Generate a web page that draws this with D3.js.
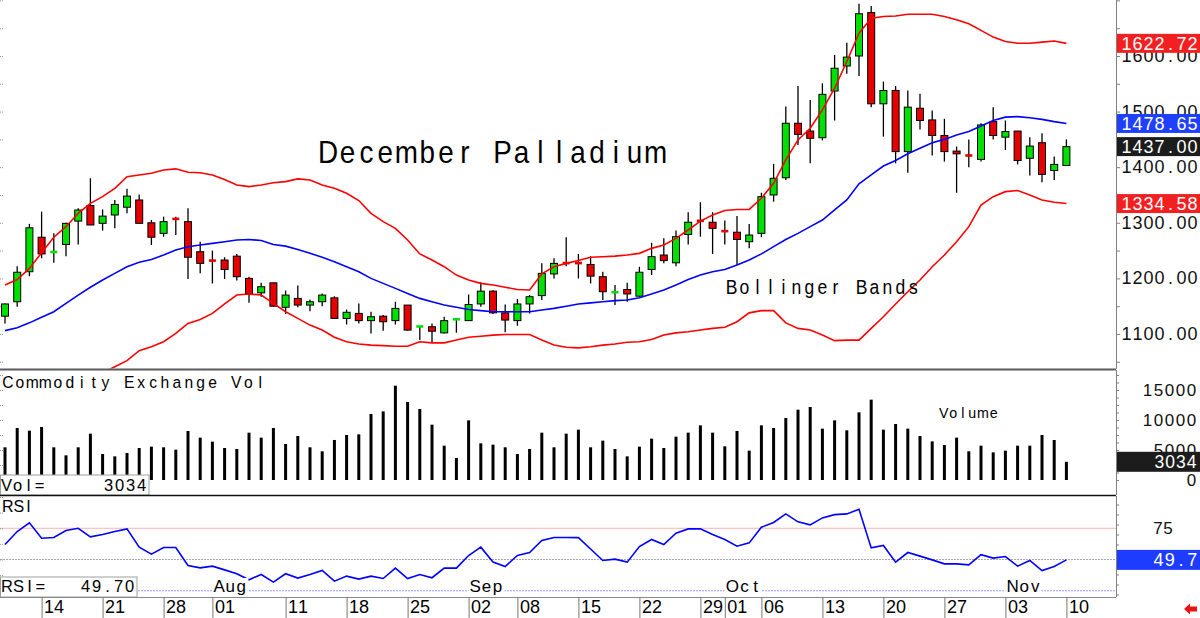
<!DOCTYPE html>
<html><head><meta charset="utf-8">
<script src="https://cdn.jsdelivr.net/npm/d3@7"></script>
<style>html,body{margin:0;padding:0;background:#fff;}svg{display:block;}</style>
</head><body>
<svg id="chart" width="1200" height="618"></svg>
<script>
// ---------------- DATA ----------------
const dates = ["07-09","07-10","07-11","07-14","07-15","07-16","07-17","07-18","07-21","07-22","07-23","07-24","07-25","07-28","07-29","07-30","07-31","08-01","08-04","08-05","08-06","08-07","08-08","08-11","08-12","08-13","08-14","08-15","08-18","08-19","08-20","08-21","08-22","08-25","08-26","08-27","08-28","08-29","09-02","09-03","09-04","09-05","09-08","09-09","09-10","09-11","09-12","09-15","09-16","09-17","09-18","09-19","09-22","09-23","09-24","09-25","09-26","09-29","09-30","10-01","10-02","10-03","10-06","10-07","10-08","10-09","10-10","10-13","10-14","10-15","10-16","10-17","10-20","10-21","10-22","10-23","10-24","10-27","10-28","10-29","10-30","10-31","11-03","11-04","11-05","11-06","11-07","11-10"];
const openP  = [1132,1158,1212,1274,1247,1261,1303,1331,1299,1314,1328,1341,1300,1281,1309,1302,1248,1233,1233,1240,1200,1174,1192,1148,1164,1152,1158,1165,1128,1137,1124,1132,1124,1152,1113,1113,1102,1126,1124,1154,1177,1138,1124,1154,1169,1208,1228,1228,1225,1203,1173,1180,1168,1216,1242,1228,1279,1304,1301,1287,1283,1266,1281,1350,1381,1479,1465,1453,1537,1582,1600,1678,1514,1538,1428,1506,1485,1457,1429,1422,1414,1482,1454,1465,1416,1444,1394,1403];
const highP  = [1155,1222,1298,1320,1281,1300,1326,1380,1324,1341,1361,1351,1305,1311,1311,1326,1266,1250,1238,1244,1203,1192,1192,1178,1187,1162,1173,1168,1144,1155,1140,1134,1158,1152,1114,1119,1131,1127,1171,1193,1179,1153,1163,1170,1227,1236,1274,1244,1240,1212,1188,1192,1221,1264,1272,1286,1319,1337,1319,1304,1312,1298,1354,1406,1509,1546,1521,1551,1602,1624,1694,1690,1554,1546,1538,1532,1502,1487,1437,1450,1479,1508,1484,1465,1454,1461,1419,1450];
const lowP   = [1119,1149,1204,1236,1228,1240,1261,1296,1286,1290,1317,1299,1260,1275,1278,1199,1209,1191,1199,1196,1156,1167,1149,1136,1148,1141,1150,1128,1117,1119,1101,1106,1117,1106,1089,1084,1101,1102,1124,1149,1136,1103,1115,1137,1161,1200,1222,1200,1191,1161,1152,1158,1167,1206,1227,1222,1261,1275,1244,1261,1224,1254,1274,1338,1377,1440,1407,1448,1484,1568,1564,1508,1455,1407,1390,1468,1421,1410,1354,1400,1410,1450,1431,1405,1385,1373,1377,1403];
const closeP = [1154,1211,1291,1244,1248,1299,1323,1296,1312,1333,1348,1299,1274,1302,1305,1238,1227,1231,1216,1203,1172,1185,1150,1170,1152,1158,1170,1128,1139,1124,1131,1122,1146,1107,1114,1105,1124,1127,1153,1177,1138,1125,1154,1167,1209,1227,1227,1227,1204,1176,1177,1172,1211,1239,1232,1275,1301,1303,1290,1283,1270,1278,1347,1380,1479,1459,1452,1531,1578,1598,1676,1514,1538,1428,1508,1484,1457,1428,1424,1420,1476,1457,1464,1412,1438,1387,1405,1437];
const bbUpper  = [1188,1198,1218,1246,1274,1293,1317,1335,1347,1362,1383,1386,1389,1395,1397,1391,1390,1386,1378,1368,1365,1368,1372,1374,1379,1377,1368,1362,1353,1340,1317,1302,1290,1269,1244,1233,1221,1206,1197,1191,1188,1184,1180,1179,1208,1221,1227,1232,1238,1239,1240,1242,1245,1254,1260,1272,1287,1303,1314,1322,1324,1324,1344,1371,1413,1449,1470,1503,1542,1590,1641,1668,1671,1672,1675,1675,1675,1671,1665,1658,1646,1634,1626,1623,1623,1625,1627,1622.72];
const bbMiddle = [1106,1111,1120,1130,1140,1155,1170,1184,1197,1209,1221,1229,1234,1242,1251,1257,1260,1263,1266,1269,1270,1268,1261,1258,1252,1245,1238,1230,1221,1212,1200,1191,1182,1173,1164,1158,1152,1148,1144,1142,1140,1140,1140,1140,1143,1146,1150,1154,1156,1158,1160,1161,1165,1172,1179,1188,1198,1206,1212,1216,1224,1233,1244,1257,1270,1281,1293,1305,1323,1341,1370,1386,1402,1412,1424,1434,1444,1450,1458,1464,1474,1484,1490,1491,1489,1486,1482,1478.65];
const bbLower  = [1005,1005,1004,1002,1000,1004,1012,1022,1030,1041,1052,1070,1077,1086,1101,1119,1126,1137,1154,1170,1172,1170,1155,1140,1128,1116,1107,1094,1086,1082,1080,1079,1078,1078,1086,1084,1084,1089,1094,1096,1098,1099,1099,1099,1089,1080,1076,1075,1077,1080,1082,1085,1086,1090,1098,1102,1104,1107,1110,1112,1122,1138,1142,1142,1120,1110,1107,1098,1088,1089,1089,1110,1131,1154,1176,1197,1221,1242,1266,1293,1332,1347,1356,1358,1350,1341,1337,1334.58];
const volume = [5450,8670,8220,8830,5450,4110,5450,7720,4330,3940,4500,5330,5560,5450,5060,8170,7060,6390,5330,5170,7890,7060,8670,6000,7330,5450,4780,6670,7500,7610,11000,11440,15720,13000,11830,9220,5720,3670,9940,6110,5890,5450,4330,5170,7890,5450,7720,8390,5450,6560,5170,3940,5560,6890,5330,7220,7890,9110,7890,5610,8170,4890,9110,8670,10330,11720,12170,8560,9940,8280,11280,13390,8390,9330,8560,7330,6440,5830,7060,4780,5720,4610,4890,5720,5720,7500,6670,3034];
const rsi = [62.0,72.4,79.3,67.0,67.6,73.2,75.0,68.1,70.0,72.4,74.5,59.9,54.3,59.6,59.6,45.2,43.3,44.7,41.7,38.6,33.8,38.0,31.9,38.6,35.1,38.0,41.2,32.7,36.7,34.3,36.7,34.8,43.1,34.8,38.0,35.4,43.1,43.1,53.2,59.9,47.9,44.4,53.2,55.6,65.2,67.6,67.6,67.5,58.4,49.2,50.3,47.9,60.4,66.0,62.0,71.0,74.5,74.5,70.0,66.0,60.6,63.3,75.8,79.6,86.5,80.1,77.7,83.3,85.9,86.5,90.2,59.3,61.2,47.9,55.6,52.7,49.7,46.5,46.5,45.7,53.9,51.1,52.4,44.7,49.2,41.2,44.4,49.7];
const priceTicks = [1100,1200,1300,1400,1500,1600];
const volTicks = [0,5000,10000,15000];
const rsiLevels = [75,50,25];
const rsiTickLabels = [75];
const xTickDates  = ["07-14","07-21","07-28","08-01","08-11","08-18","08-25","09-02","09-08","09-15","09-22","09-29","10-01","10-06","10-13","10-20","10-27","11-03","11-10"];
const xTickLabels = ["14","21","28","01","11","18","25","02","08","15","22","29","01","06","13","20","27","03","10"];
const monthDates  = ["08-01","09-02","10-01","11-03"];
const monthLabels = ["Aug","Sep","Oct","Nov"];
const lastUpper = 1622.72, lastMiddle = 1478.65, lastClose = 1437.00, lastLower = 1334.58;
const lastVol = 3034, lastRsi = 49.70;
const titleText = "December Palladium";
const bandText = "Bollinger Bands";
const volTitle = "Commodity Exchange Vol";
const volLabel = "Volume";

// ---------------- SETUP ----------------
const FONT = "'Liberation Sans', Arial, Helvetica, sans-serif";
const svg = d3.select('#chart');
svg.append('rect').attr('width',1200).attr('height',618).attr('fill','#fff');
const PR = 1116; // right edge of plots

const x  = d3.scalePoint().domain(dates).range([5, 1066.4]);
const yP = d3.scaleLinear().domain([1037, 1700.7]).range([369, 0]);
const yV = d3.scaleLinear().domain([0, 18333]).range([480, 370]);
const yR = d3.scaleLinear().domain([20, 100.8]).range([597, 496]);

const ctx = document.createElement('canvas').getContext('2d');
function spaced(parent, str, px, py, o) {
  const size = o.size, sx = o.sx || 1;
  ctx.font = `${size}px ${FONT}`;
  const chars = [...str];
  const ws = chars.map(c => ctx.measureText(c).width * sx);
  const adv = ws.map(w => Math.max(o.cell || 0, w + (o.pad || 0)));
  const total = d3.sum(adv);
  let cx = o.anchor === 'end' ? px - total : o.anchor === 'middle' ? px - total / 2 : px;
  const xs = [];
  ws.forEach((w, i) => { xs.push(((cx + (adv[i] - w) / 2) / sx).toFixed(2)); cx += adv[i]; });
  const g = parent.append('g').attr('transform', `scale(${sx},1)`);
  g.append('text').attr('x', xs.join(' ')).attr('y', py)
    .attr('font-family', FONT).attr('font-size', size)
    .attr('fill', o.fill || '#000').text(str);
  return total;
}

const defs = svg.append('defs');
defs.append('clipPath').attr('id','clipMain').append('rect').attr('x',0).attr('y',0).attr('width',PR).attr('height',368.5);
defs.append('clipPath').attr('id','clipRsi').append('rect').attr('x',0).attr('y',496).attr('width',PR).attr('height',101);

// ---------------- MAIN PANEL ----------------
const main = svg.append('g').attr('clip-path','url(#clipMain)');
const idx = d3.range(dates.length);
const GREEN = '#00e000', RED = '#e60000';

spaced(svg, titleText, 318, 163, {size:32, sx:0.87, cell:18.85});
spaced(svg, bandText, 725, 294, {size:19.5, sx:0.9, cell:13});

// wicks
main.selectAll('line.wick').data(idx).join('line')
  .attr('x1', i => x(dates[i])).attr('x2', i => x(dates[i]))
  .attr('y1', i => yP(highP[i])).attr('y2', i => yP(lowP[i]))
  .attr('stroke','#000').attr('stroke-width',1.3);
// bodies
main.selectAll('rect.body').data(idx).join('rect')
  .each(function(i){
    const top = yP(Math.max(openP[i], closeP[i]));
    const bot = yP(Math.min(openP[i], closeP[i]));
    const up = closeP[i] >= openP[i];
    const h = bot - top;
    const r = d3.select(this).attr('x', x(dates[i]) - 3.5).attr('width', 7)
      .attr('fill', up ? GREEN : RED);
    if (h < 2.5) {
      r.attr('y', (top + bot) / 2 - 1.3).attr('height', 2.6).attr('stroke','none');
    } else {
      r.attr('y', top).attr('height', h).attr('stroke','#000').attr('stroke-width',1);
    }
  });
// bands
const bandLine = arr => d3.line().x((d,i)=>x(dates[i])).y(d=>yP(d)).curve(d3.curveLinear)(arr);
main.append('path').attr('d', bandLine(bbUpper)).attr('fill','none').attr('stroke','#ff0000').attr('stroke-width',1.6);
main.append('path').attr('d', bandLine(bbLower)).attr('fill','none').attr('stroke','#ff0000').attr('stroke-width',1.6);
main.append('path').attr('d', bandLine(bbMiddle)).attr('fill','none').attr('stroke','#0000ff').attr('stroke-width',1.6);

// left edge ticks
svg.append('g').attr('transform','translate(0,0)')
  .call(d3.axisRight(yP).tickValues(d3.range(1050,1701,50)).tickSize(3).tickFormat(''))
  .call(g => g.select('.domain').remove())
  .selectAll('line').attr('stroke','#999').attr('stroke-dasharray','1,1');

// right axis
svg.append('g').attr('transform',`translate(${PR},0)`)
  .call(d3.axisRight(yP).tickValues(d3.range(1050,1701,50)).tickSize(4).tickFormat(''))
  .call(g => g.select('.domain').attr('stroke','#808080').attr('d','M0.5,0V369'))
  .selectAll('line').attr('stroke','#808080');
priceTicks.forEach(v => spaced(svg, v.toFixed(2), 1198, yP(v) + 6, {size:18, cell:11, anchor:'end', fill:'#111'}));

function valueBox(v, yScale, color, txt, opts) {
  const yc = yScale(v);
  svg.append('rect').attr('x', PR + 1).attr('y', yc - 9.5).attr('width', 83).attr('height', 19).attr('fill', color);
  spaced(svg, txt, 1198, yc + 6.5, Object.assign({size:18, cell:11, anchor:'end', fill:'#fff'}, opts || {}));
}
valueBox(lastUpper, yP, '#f22020', lastUpper.toFixed(2));
valueBox(lastMiddle, yP, '#2040ff', lastMiddle.toFixed(2));
valueBox(lastClose, yP, '#1c1c1c', lastClose.toFixed(2));
valueBox(lastLower, yP, '#f22020', lastLower.toFixed(2));

svg.append('line').attr('x1',0).attr('x2',PR).attr('y1',369.5).attr('y2',369.5).attr('stroke','#5a5a5a').attr('stroke-width',2);

// ---------------- VOLUME PANEL ----------------
spaced(svg, volTitle, 2, 388, {size:16.5, sx:0.95, cell:11.9});
spaced(svg, volLabel, 939, 418, {size:15, sx:0.95, cell:9.5});
svg.append('g').selectAll('rect').data(idx).join('rect')
  .attr('x', i => x(dates[i]) - 1.5).attr('width', 3)
  .attr('y', i => yV(volume[i])).attr('height', i => yV(0) - yV(volume[i]))
  .attr('fill','#000');
svg.append('g')
  .call(d3.axisRight(yV).tickValues(d3.range(2500,18001,2500)).tickSize(3).tickFormat(''))
  .call(g => g.select('.domain').remove())
  .selectAll('line').attr('stroke','#999').attr('stroke-dasharray','1,1');
svg.append('g').attr('transform',`translate(${PR},0)`)
  .call(d3.axisRight(yV).tickValues(d3.range(0,18001,1250)).tickSize(3).tickFormat(''))
  .call(g => g.select('.domain').attr('stroke','#808080').attr('d','M0.5,370V495'))
  .selectAll('line').attr('stroke','#808080');
volTicks.forEach(v => spaced(svg, String(v), 1197, yV(v) + 6, {size:17, cell:11, anchor:'end', fill:'#111'}));
// last vol box
svg.append('rect').attr('x', PR + 1).attr('y', yV(lastVol) - 10).attr('width', 83).attr('height', 20).attr('fill','#1c1c1c');
spaced(svg, String(lastVol), 1197, yV(lastVol) + 6.5, {size:17.5, cell:10.75, anchor:'end', fill:'#fff'});
// Vol= box
svg.append('rect').attr('x',0.5).attr('y',475).attr('width',148.5).attr('height',20).attr('fill','#fff').attr('stroke','#a0a0a0');
spaced(svg, 'Vol=', 1, 490.5, {size:16.5, cell:11});
spaced(svg, String(lastVol), 147, 490.5, {size:16.5, cell:11, anchor:'end'});

svg.append('line').attr('x1',0).attr('x2',PR).attr('y1',495.5).attr('y2',495.5).attr('stroke','#111').attr('stroke-width',1.5);

// ---------------- RSI PANEL ----------------
const levelColors = {75:'#ffb0b0', 50:'#a8a8a8', 25:'#9a9aff'};
rsiLevels.forEach(l => {
  svg.append('line').attr('x1',0).attr('x2',PR).attr('y1',yR(l)).attr('y2',yR(l))
    .attr('stroke', levelColors[l]).attr('stroke-width',1).attr('stroke-dasharray', l===75 ? null : '2,1');
});
svg.append('g').attr('clip-path','url(#clipRsi)').append('path')
  .attr('d', d3.line().x((d,i)=>x(dates[i])).y(d=>yR(d))(rsi))
  .attr('fill','none').attr('stroke','#0000ff').attr('stroke-width',1.6);
// month labels
monthDates.forEach((d,k) => {
  const mx = x(d);
  svg.append('rect').attr('x', mx).attr('y', 578).attr('width', 36).attr('height', 18).attr('fill','#fff');
  spaced(svg, monthLabels[k], mx + 1, 592, {size:17, cell:11});
});
spaced(svg, 'RSI', 2, 512, {size:16, cell:8.5});
svg.append('g')
  .call(d3.axisRight(yR).tickValues(d3.range(25,101,12.5)).tickSize(3).tickFormat(''))
  .call(g => g.select('.domain').remove())
  .selectAll('line').attr('stroke','#999').attr('stroke-dasharray','1,1');
svg.append('g').attr('transform',`translate(${PR},0)`)
  .call(d3.axisRight(yR).tickValues(d3.range(22,100,8)).tickSize(3).tickFormat(''))
  .call(g => g.select('.domain').attr('stroke','#808080').attr('d','M0.5,496V597'))
  .selectAll('line').attr('stroke','#808080');
rsiTickLabels.forEach(v => spaced(svg, String(v), 1173, yR(v) + 6, {size:17, cell:10, anchor:'end', fill:'#111'}));
svg.append('rect').attr('x', PR + 1).attr('y', yR(lastRsi) - 10).attr('width', 83).attr('height', 20).attr('fill','#1e3cff');
spaced(svg, lastRsi.toFixed(1), 1198, yR(lastRsi) + 6.5, {size:18, cell:11.25, anchor:'end', fill:'#fff'});
svg.append('rect').attr('x',0.5).attr('y',577).attr('width',136.5).attr('height',20).attr('fill','#fff').attr('stroke','#a0a0a0');
spaced(svg, 'RSI=', 1, 591.5, {size:16.5, cell:11});
spaced(svg, lastRsi.toFixed(2), 135, 591.5, {size:16.5, cell:11, anchor:'end'});

// ---------------- X AXIS ----------------
svg.append('line').attr('x1',0).attr('x2',PR).attr('y1',597.5).attr('y2',597.5).attr('stroke','#888').attr('stroke-width',1);
svg.append('g').attr('transform','translate(0,597)')
  .call(d3.axisBottom(x).tickValues(xTickDates).tickSize(21).tickFormat(''))
  .call(g => g.select('.domain').remove())
  .selectAll('line').attr('stroke','#777');
xTickDates.forEach((d,k) => spaced(svg, xTickLabels[k], x(d) + 2.5, 613, {size:18, cell:10}));
// red arrow
svg.append('path').attr('d','M1184,609 L1190,603.5 L1190,606.5 L1197,606.5 L1197,611.5 L1190,611.5 L1190,614.5 Z').attr('fill','#ee1111');
</script>
</body></html>
